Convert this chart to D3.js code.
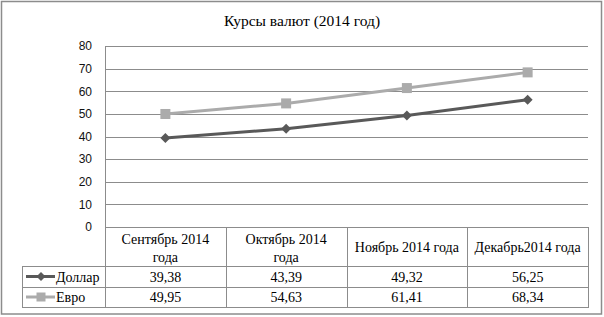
<!DOCTYPE html>
<html>
<head>
<meta charset="utf-8">
<script src="https://cdn.jsdelivr.net/npm/d3@7"></script>
<style>
  body { margin: 0; background: #fff; }
  svg { display: block; }
  .serif { font-family: "Liberation Serif", "Times New Roman", serif; font-size: 14px; }
  .sans { font-family: "Liberation Sans", Arial, sans-serif; font-size: 12px; }
</style>
</head>
<body>
<div id="chart"></div>
<script>
// data
var months = ["Сентябрь 2014 года", "Октябрь 2014 года", "Ноябрь 2014 года", "Декабрь2014 года"]
var monthLines = [["Сентябрь 2014", "года"], ["Октябрь 2014", "года"], ["Ноябрь 2014 года"], ["Декабрь2014 года"]]
var dollar = [39.38, 43.39, 49.32, 56.25]
var euro = [49.95, 54.63, 61.41, 68.34]
var yTicks = [0, 10, 20, 30, 40, 50, 60, 70, 80]

var series = [
  {name: "Доллар", values: dollar, color: "#595959", marker: "diamond"},
  {name: "Евро", values: euro, color: "#ababab", marker: "square"}
]

var W = 604, H = 317
var plot = {left: 105, right: 588, top: 46, bottom: 227}
var rowTops = [266, 287, 307]
var legendLeft = 22
var gridColor = "#8c8c8c"

var svg = d3.select("#chart").append("svg")
  .attr("width", W)
  .attr("height", H)

// outer frame
svg.append("rect")
  .attr("x", 1.5).attr("y", 1.5)
  .attr("width", 600).attr("height", 312.5)
  .attr("fill", "white")
  .attr("stroke", gridColor)
  .attr("stroke-width", 1.5)

// title
svg.append("text")
  .attr("class", "serif")
  .attr("x", 302).attr("y", 26)
  .attr("text-anchor", "middle")
  .style("font-size", "15.5px")
  .attr("fill", "#000")
  .text("Курсы валют (2014 год)")

var xScale = d3.scaleBand()
  .domain(months)
  .range([plot.left, plot.right])
  .padding(0)

var yScale = d3.scaleLinear()
  .domain([0, 80])
  .range([plot.bottom, plot.top])

// gridlines
svg.append("g")
  .selectAll("line")
  .data(yTicks)
  .join("line")
  .attr("x1", plot.left).attr("x2", plot.right)
  .attr("y1", function (d) { return Math.round(yScale(d)) + 0.5 })
  .attr("y2", function (d) { return Math.round(yScale(d)) + 0.5 })
  .attr("stroke", gridColor)
  .attr("stroke-width", 1)

// y axis labels
var yAxis = svg.append("g")
  .attr("transform", "translate(" + plot.left + ",0)")
  .call(d3.axisLeft(yScale).tickValues(yTicks).tickSize(0).tickPadding(13))
yAxis.attr("font-family", null).attr("font-size", null)
yAxis.select(".domain").remove()
yAxis.selectAll("text")
  .attr("class", "sans")
  .attr("fill", "#111")

// left vertical axis line
svg.append("line")
  .attr("x1", plot.left + 0.5).attr("x2", plot.left + 0.5)
  .attr("y1", plot.top).attr("y2", rowTops[2])
  .attr("stroke", gridColor)

// table: column separators
svg.append("g")
  .selectAll("line")
  .data(months.slice(1).concat(["end"]))
  .join("line")
  .attr("x1", function (d) { return Math.round(d == "end" ? plot.right : xScale(d)) + 0.5 })
  .attr("x2", function (d) { return Math.round(d == "end" ? plot.right : xScale(d)) + 0.5 })
  .attr("y1", plot.bottom).attr("y2", rowTops[2])
  .attr("stroke", gridColor)

// table: row lines
svg.append("g")
  .selectAll("line")
  .data(rowTops)
  .join("line")
  .attr("x1", legendLeft).attr("x2", plot.right + 1)
  .attr("y1", function (d) { return d + 0.5 })
  .attr("y2", function (d) { return d + 0.5 })
  .attr("stroke", gridColor)
svg.append("line")
  .attr("x1", legendLeft + 0.5).attr("x2", legendLeft + 0.5)
  .attr("y1", rowTops[0]).attr("y2", rowTops[2])
  .attr("stroke", gridColor)

// header labels
var header = svg.append("g")
  .selectAll("text")
  .data(months)
  .join("text")
  .attr("class", "serif")
  .attr("text-anchor", "middle")
  .attr("fill", "#000")
  .attr("x", function (d) { return xScale(d) + xScale.bandwidth() / 2 })
header.each(function (d, i) {
  var lines = monthLines[i]
  var el = d3.select(this)
  var y0 = lines.length == 2 ? 244 : 252
  lines.forEach(function (t, k) {
    el.append("tspan")
      .attr("x", xScale(d) + xScale.bandwidth() / 2)
      .attr("y", y0 + k * 18)
      .text(t)
  })
})

function drawMarker (g, type, cx, cy, color, size) {
  if (type == "diamond") {
    g.append("path")
      .attr("d", "M" + cx + "," + (cy - size) + "L" + (cx + size) + "," + cy +
        "L" + cx + "," + (cy + size) + "L" + (cx - size) + "," + cy + "Z")
      .attr("fill", color)
  } else {
    g.append("rect")
      .attr("x", cx - size).attr("y", cy - size)
      .attr("width", size * 2).attr("height", size * 2)
      .attr("fill", color)
  }
}

// lines + markers
var line = d3.line()
  .x(function (d, i) { return xScale(months[i]) + xScale.bandwidth() / 2 })
  .y(function (d) { return yScale(d) })

series.slice().reverse().forEach(function (s) {
  var g = svg.append("g")
  g.append("path")
    .datum(s.values)
    .attr("d", line)
    .attr("fill", "none")
    .attr("stroke", s.color)
    .attr("stroke-width", 3)
  s.values.forEach(function (v, i) {
    drawMarker(g, s.marker, xScale(months[i]) + xScale.bandwidth() / 2, yScale(v), s.color, 5)
  })
})

// table values + legend keys
series.forEach(function (s, r) {
  var top = rowTops[r], bottom = rowTops[r + 1]
  var cy = (top + bottom) / 2
  var g = svg.append("g")
  g.append("line")
    .attr("x1", 26).attr("x2", 55)
    .attr("y1", cy).attr("y2", cy)
    .attr("stroke", s.color)
    .attr("stroke-width", 3)
  drawMarker(g, s.marker, 41, cy, s.color, 4.5)
  g.append("text")
    .attr("class", "serif")
    .attr("x", 56).attr("y", cy + 5)
    .attr("fill", "#000")
    .text(s.name)
  g.selectAll(".val")
    .data(s.values)
    .join("text")
    .attr("class", "val serif")
    .attr("text-anchor", "middle")
    .attr("x", function (d, i) { return xScale(months[i]) + xScale.bandwidth() / 2 })
    .attr("y", cy + 5)
    .attr("fill", "#000")
    .text(function (d) { return d.toFixed(2).replace(".", ",") })
})
</script>
</body>
</html>
